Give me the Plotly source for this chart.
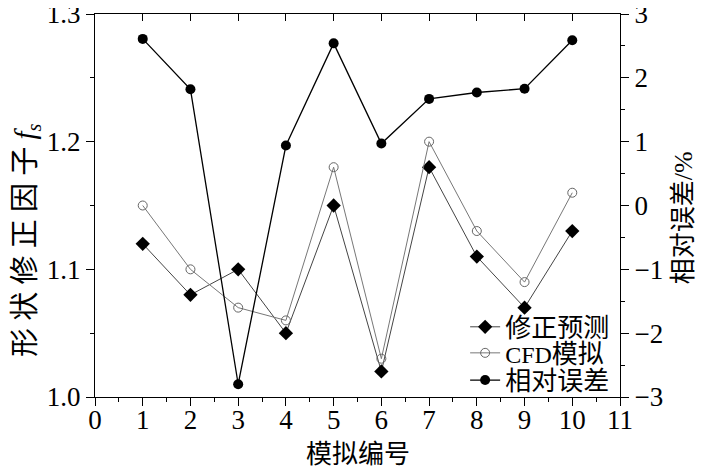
import plotly.graph_objects as go

run_id = [1, 2, 3, 4, 5, 6, 7, 8, 9, 10]
fs_pred = [1.12, 1.08, 1.10, 1.05, 1.15, 1.02, 1.18, 1.11, 1.07, 1.13]
fs_cfd = [1.15, 1.10, 1.07, 1.06, 1.18, 1.03, 1.20, 1.13, 1.09, 1.16]
rel_err = [2.61, 1.82, -2.80, 0.94, 2.54, 0.97, 1.67, 1.77, 1.83, 2.59]

FONT = "Liberation Serif, Times New Roman, Noto Sans CJK SC, serif"

fig = go.Figure()
fig.add_trace(go.Scatter(
    x=run_id, y=fs_pred, name="修正预测", mode="lines+markers", legend="legend",
    line=dict(color="#444444", width=1),
    marker=dict(symbol="diamond", size=11, color="black"),
))
fig.add_trace(go.Scatter(
    x=run_id, y=fs_cfd, name="<span style='font-size:24px'>CFD</span>模拟",
    mode="lines+markers", legend="legend2",
    line=dict(color="#777777", width=1),
    marker=dict(symbol="circle-open", size=9, color="#666666", line=dict(width=1)),
))
fig.add_trace(go.Scatter(
    x=run_id, y=rel_err, name="相对误差", mode="lines+markers", yaxis="y2", legend="legend3",
    line=dict(color="black", width=1.3),
    marker=dict(symbol="circle", size=10, color="black"),
))
# dummy trace so the top axis (inward ticks) is drawn
fig.add_trace(go.Scatter(x=[None], y=[None], xaxis="x2", showlegend=False, hoverinfo="skip"))

axis_common = dict(
    showline=True, linecolor="black", linewidth=1.2, showgrid=False, zeroline=False,
    ticks="outside", ticklen=8, tickwidth=1.2, tickcolor="black", automargin=False,
    ticklabeloverflow="allow",
    tickfont=dict(family=FONT, size=27, color="black"),
)

leg = dict(
    xanchor="left", yanchor="middle", bgcolor="rgba(0,0,0,0)",
    font=dict(family=FONT, size=26, color="black"), borderwidth=0,
)

fig.update_layout(
    width=709, height=471,
    # page body adds an 8px offset; margins compensate so the plot sits as in the reference
    margin=dict(l=87, r=97, t=6, b=82),
    plot_bgcolor="white", paper_bgcolor="white",
    font=dict(family=FONT, size=26, color="black"),
    xaxis=dict(
        **axis_common, range=[0, 11], dtick=1, tick0=0, ticklabelstandoff=-10,
        minor=dict(dtick=0.5, ticks="outside", ticklen=4, tickcolor="black"),
    ),
    xaxis2=dict(
        overlaying="x", side="top", range=[0, 11], dtick=1, tick0=0, automargin=False,
        showline=True, linecolor="black", linewidth=1.2, showgrid=False, zeroline=False,
        ticks="inside", ticklen=7, tickcolor="black", showticklabels=False,
    ),
    yaxis=dict(
        **axis_common, range=[1.0, 1.3000001], tickvals=[1.0, 1.1, 1.2, 1.3],
        ticktext=["1.0", "1.1", "1.2", "1.3"],
        minor=dict(tickvals=[1.05, 1.15, 1.25], ticks="outside", ticklen=4, tickcolor="black"),
    ),
    yaxis2=dict(
        **axis_common, overlaying="y", side="right", range=[-3, 3.0000001], dtick=1,
        minor=dict(dtick=0.5, ticks="outside", ticklen=4, tickcolor="black"),
    ),
    legend=dict(**leg, x=0.705, y=0.183),
    legend2=dict(**leg, x=0.705, y=0.115),
    legend3=dict(**leg, x=0.705, y=0.044),
    annotations=[
        dict(text="模拟编号", xref="paper", yref="paper", x=0.5, y=-0.151,
             xanchor="center", yanchor="middle", showarrow=False,
             font=dict(family=FONT, size=26)),
        dict(text="形 状 修 正 因 子 <i>f</i><sub><i>s</i></sub>", xref="paper", yref="paper",
             x=-0.1295, y=0.41, xanchor="center", yanchor="middle", textangle=-90,
             showarrow=False, font=dict(family=FONT, size=29)),
        dict(text="相对误差/%", xref="paper", yref="paper", x=1.12, y=0.467,
             xanchor="center", yanchor="middle", textangle=-90, showarrow=False,
             font=dict(family=FONT, size=26)),
    ],
)

fig.write_html("out.html")
